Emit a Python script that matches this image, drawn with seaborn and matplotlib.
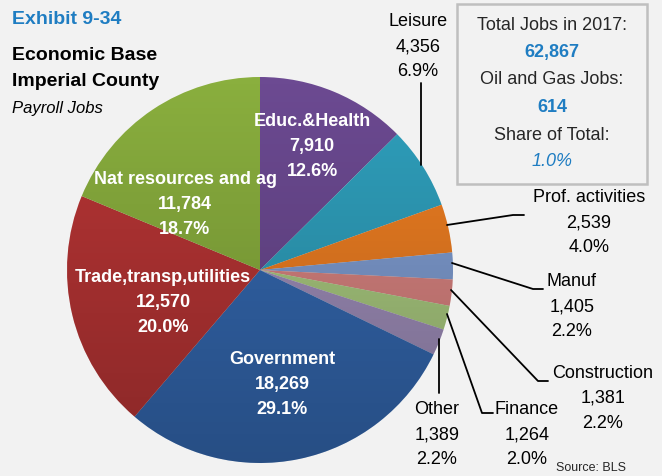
import matplotlib
matplotlib.use("Agg")
import matplotlib.pyplot as plt
import matplotlib.font_manager as fm
import numpy as np
import seaborn as sns

# data (clockwise from 12 o'clock)
sectors = ["Educ.&Health", "Leisure", "Prof. activities", "Manuf", "Construction",
           "Finance", "Other", "Government", "Trade,transp,utilities", "Nat resources and ag"]
jobs = [7910, 4356, 2539, 1405, 1381, 1264, 1389, 18269, 12570, 11784]
shares = ["12.6%", "6.9%", "4.0%", "2.2%", "2.2%", "2.0%", "2.2%", "29.1%", "20.0%", "18.7%"]
colors = ["#6C4A92", "#2FA0BD", "#EE7E22", "#7F9DD2", "#DA8481",
          "#AACB80", "#9F8EBA", "#3468B0", "#B83535", "#8AAF3E"]
total_jobs = "62,867"
oil_gas_jobs = "614"
oil_gas_share = "1.0%"

sns.set_style("white")
names = {f.name for f in fm.fontManager.ttflist}
font = "Liberation Sans Narrow" if "Liberation Sans Narrow" in names else "Liberation Sans"
plt.rcParams["font.family"] = [font, "DejaVu Sans"]

W, H = 662, 476
fig = plt.figure(figsize=(W / 100, H / 100), dpi=100, facecolor="#F2F2F2")
ax = fig.add_axes([0, 0, 1, 1])
ax.set_facecolor("#F2F2F2")
ax.axis("off")


def Y(y):
    return H - y


cx, cy, r = 260, 270, 193
ax.pie(jobs, colors=colors, startangle=90, counterclock=False,
       center=(cx, Y(cy)), radius=r, wedgeprops=dict(linewidth=0))
ax.set_xlim(0, W)
ax.set_ylim(0, H)
ax.set_aspect("equal")

# soft top-to-bottom shading like the original
grad = np.zeros((256, 1, 4))
grad[:, 0, 3] = np.linspace(0.0, 0.25, 256)
im = ax.imshow(grad, extent=(cx - r, cx + r, Y(cy + r), Y(cy - r)), aspect="auto",
               origin="upper", zorder=2)
im.set_clip_path(plt.Circle((cx, Y(cy)), r, transform=ax.transData))
ax.set_xlim(0, W)
ax.set_ylim(0, H)

# titles
ax.text(12, Y(20), "Exhibit 9-34", color="#1F7DC2", fontsize=14, fontweight="bold", va="center")
ax.text(12, Y(55), "Economic Base", color="black", fontsize=14, fontweight="bold", va="center")
ax.text(12, Y(82), "Imperial County", color="black", fontsize=14, fontweight="bold", va="center")
ax.text(12, Y(108), "Payroll Jobs", color="black", fontsize=12, style="italic", va="center")

# labels inside the large slices
inside = {0: (312, 122), 9: (185, 180), 8: (163, 277), 7: (282, 360)}
for i, (x, y) in inside.items():
    ax.text(x, Y(y), sectors[i], color="white", fontsize=13, fontweight="bold", ha="center", va="center")
    ax.text(x, Y(y + 25), f"{jobs[i]:,}", color="white", fontsize=13, fontweight="bold", ha="center", va="center")
    ax.text(x, Y(y + 50), shares[i], color="white", fontsize=13, fontweight="bold", ha="center", va="center")

# outside labels with leader lines
outside = {
    1: ((418, 22), [(421, 165), (421, 83)]),
    2: ((589, 198), [(447, 225), (513, 215), (524, 215)]),
    3: ((572, 282), [(452, 263), (533, 289), (543, 289)]),
    4: ((603, 373), [(451, 290), (538, 381), (548, 381)]),
    5: ((527, 410), [(447, 314), (482, 413), (493, 413)]),
    6: ((437, 410), [(439, 339), (439, 393)]),
}
for i, ((x, y), pts) in outside.items():
    ax.text(x, Y(y), sectors[i], fontsize=13, ha="center", va="center", color="black")
    ax.text(x, Y(y + 25), f"{jobs[i]:,}", fontsize=13, ha="center", va="center", color="black")
    ax.text(x, Y(y + 50), shares[i], fontsize=13, ha="center", va="center", color="black")
    ax.plot([p[0] for p in pts], [Y(p[1]) for p in pts], color="black", lw=1.3)

# info box
ax.add_patch(plt.Rectangle((457, Y(184)), 190, 180, facecolor="#F2F2F2",
                           edgecolor="#BFBFBF", lw=1.8))
bx = 552
ax.text(bx, Y(25), "Total Jobs in 2017:", fontsize=13, ha="center", va="center")
ax.text(bx, Y(52), total_jobs, fontsize=13, fontweight="bold", color="#1F7DC2", ha="center", va="center")
ax.text(bx, Y(80), "Oil and Gas Jobs:", fontsize=13, ha="center", va="center")
ax.text(bx, Y(108), oil_gas_jobs, fontsize=13, fontweight="bold", color="#1F7DC2", ha="center", va="center")
ax.text(bx, Y(135), "Share of Total:", fontsize=13, ha="center", va="center")
ax.text(bx, Y(162), oil_gas_share, fontsize=13, style="italic", color="#1F7DC2", ha="center", va="center")

ax.text(556, Y(468), "Source: BLS", fontsize=9, va="center")

fig.savefig("out.png", dpi=100, facecolor=fig.get_facecolor())
